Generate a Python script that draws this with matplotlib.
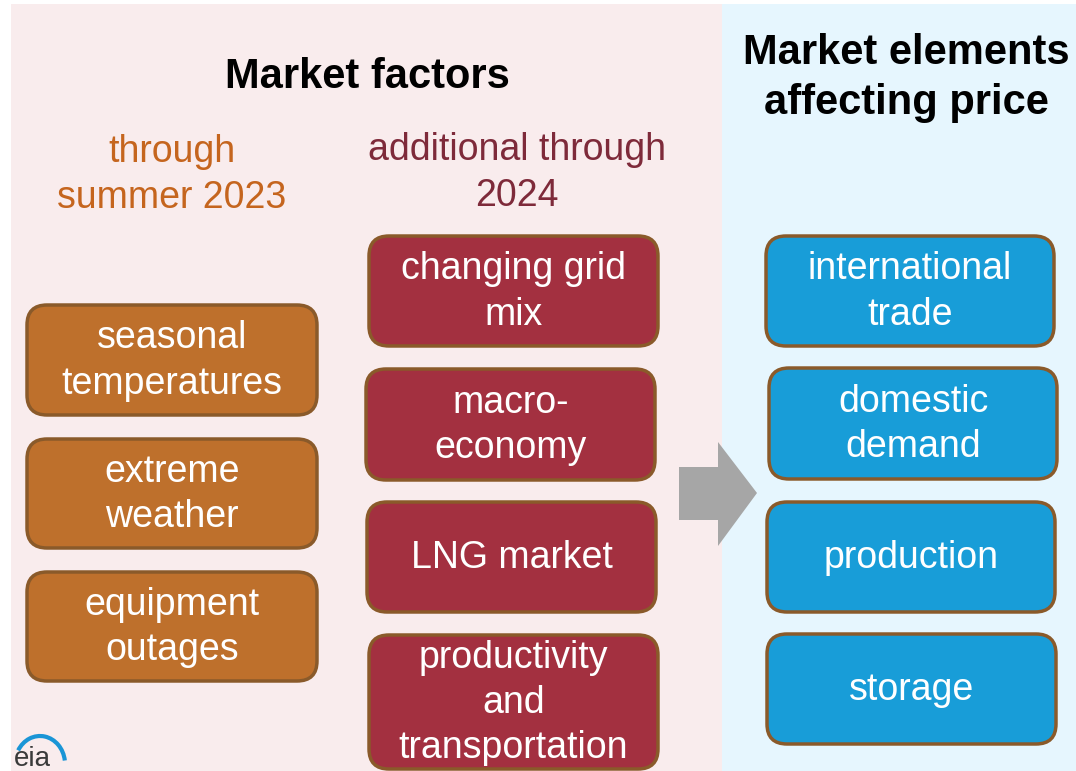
import matplotlib.pyplot as plt
from matplotlib.patches import FancyBboxPatch, Rectangle, Polygon, Arc

plt.rcParams['font.family'] = ['Liberation Sans', 'DejaVu Sans']

# labels
left_title = 'Market factors'
right_title = 'Market elements\naffecting price'
sub_summer = 'through\nsummer 2023'
sub_2024 = 'additional through\n2024'
summer_factors = ['seasonal\ntemperatures', 'extreme\nweather', 'equipment\noutages']
factors_2024 = ['changing grid\nmix', 'macro-\neconomy', 'LNG market',
                'productivity\nand\ntransportation']
price_elements = ['international\ntrade', 'domestic\ndemand', 'production', 'storage']

# box layout in pixels (x0, x1, y0, y1), y measured from top
summer_boxes = [(27, 317, 305, 415), (27, 317, 439, 548), (27, 317, 572, 681)]
boxes_2024 = [(369, 658, 236, 346), (366, 655, 369, 480), (367, 656, 502, 612), (369, 658, 635, 769)]
price_boxes = [(766, 1054, 236, 346), (769, 1057, 368, 479), (767, 1055, 502, 612), (767, 1056, 634, 744)]

orange = '#BE702C'
crimson = '#A33040'
blue = '#189DD8'
edge = '#8A5A2A'

fig = plt.figure(figsize=(10.76, 7.71), dpi=100)
ax = fig.add_axes([0, 0, 1, 1])
ax.set_xlim(0, 1076)
ax.set_ylim(771, 0)
ax.axis('off')

# panels
ax.add_patch(Rectangle((11, 4), 711, 767, color='#F9ECED', lw=0))
ax.add_patch(Rectangle((722, 4), 354, 767, color='#E6F6FE', lw=0))

ax.text(367, 77, left_title, ha='center', va='center', fontsize=30, fontweight='bold', color='black')
ax.text(906, 78, right_title, ha='center', va='center', fontsize=30, fontweight='bold',
        color='black', linespacing=1.3)
ax.text(172, 175, sub_summer, ha='center', va='center', fontsize=27, color='#C5651E', linespacing=1.33)
ax.text(517, 173, sub_2024, ha='center', va='center', fontsize=27, color='#7E2A3A', linespacing=1.33)


def draw_boxes(labels, boxes, fill):
    for lab, (x0, x1, y0, y1) in zip(labels, boxes):
        ax.add_patch(FancyBboxPatch((x0, y0), x1 - x0, y1 - y0,
                                    boxstyle='round,pad=0,rounding_size=20',
                                    facecolor=fill, edgecolor=edge, lw=2.5))
        ax.text((x0 + x1) / 2, (y0 + y1) / 2 + 1, lab, ha='center', va='center',
                fontsize=27, color='white', linespacing=1.33)


draw_boxes(summer_factors, summer_boxes, orange)
draw_boxes(factors_2024, boxes_2024, crimson)
draw_boxes(price_elements, price_boxes, blue)

# arrow
ax.add_patch(Polygon([(679, 467), (718, 467), (718, 442), (757, 493),
                      (718, 546), (718, 520), (679, 520)], closed=True,
                     facecolor='#A6A6A6', edgecolor='none'))

# eia logo
ax.add_patch(Arc((40, 764), 50, 56, theta1=212, theta2=352, color='#1A95D6', lw=3))
ax.text(14, 766, 'eia', ha='left', va='baseline', fontsize=20, color='#3A3A3A')

fig.savefig('out.png', dpi=100)
